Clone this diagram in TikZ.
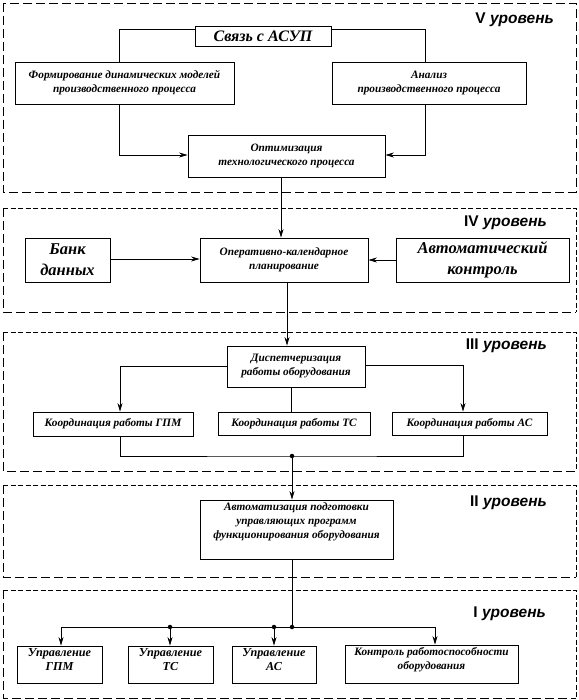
\documentclass[tikz,border=0pt]{standalone}
\usepackage{fontspec}
\setmainfont{Liberation Serif}
\newfontfamily\lvlfont{Liberation Sans}
\usetikzlibrary{arrows.meta,calc}
\newcommand\smtxt{\bfseries\itshape\fontsize{11.3}{14}\selectfont}
\newcommand\mybox[7][]{\node[box,#1,minimum width={(#4-#3)*1pt},minimum height={(#6-#5)*1pt}] (#2) at ({(#3+#4)/2},{(#5+#6)/2}) {#7};}
\newcommand\mytopbox[7][]{\node[box,minimum width={(#4-#3)*1pt},minimum height={(#6-#5)*1pt}] (#2) at ({(#3+#4)/2},{(#5+#6)/2}) {};
  \node[txt,#1,anchor=north] (#2t) at ([yshift=-3pt]#2.north) {#7};}
\newcommand\lvlrect[2]{%
  \draw[longdash] (3,#1) -- (3,#2) -- (576,#2);
  \draw[shortdash] (3,#1) -- (576,#1) -- (576,#2);}
\begin{document}
\begin{tikzpicture}[x=1pt,y=-1pt,
  box/.style={draw,line width=0.8pt,fill=white,inner sep=0pt,align=center,font=\smtxt},
  txt/.style={inner sep=0pt,align=center,font=\smtxt},
  bigtxt/.style={font=\bfseries\itshape\fontsize{16.5}{21}\selectfont},
  midtxt/.style={font=\bfseries\itshape\fontsize{16}{17}\selectfont},
  uptxt/.style={font=\bfseries\itshape\fontsize{12.2}{14}\selectfont},
  ln/.style={line width=0.7pt},
  arr/.style={line width=0.7pt,-{Stealth[length=8.5pt,width=5pt]}},
  longdash/.style={line width=0.8pt,dash pattern=on 9pt off 4pt},
  shortdash/.style={line width=0.7pt,dash pattern=on 5pt off 2.5pt},
  jdot/.style={circle,fill,inner sep=0pt,minimum size=4.5pt},
  lvl/.style={anchor=east,inner sep=0pt,font=\lvlfont\bfseries\fontsize{15.5}{17}\selectfont}]
\useasboundingbox (0,0) rectangle (578,700);
% level frames
\draw[longdash] (3,3) rectangle (576,192);
\lvlrect{208}{312}
\lvlrect{332}{471}
\lvlrect{485}{577}
\lvlrect{590}{698}
\node[lvl] (l5) at (554,20) {V \textit{уровень}};
\node[lvl] (l4) at (547,223) {IV \textit{уровень}};
\node[lvl] (l3) at (547,346) {III \textit{уровень}};
\node[lvl] (l2) at (547,503) {II \textit{уровень}};
\node[lvl] (l1) at (546,614) {I \textit{уровень}};
% level V
\mybox[midtxt]{svyaz}{195}{331}{26}{46}{Связь с АСУП}
\mybox{form}{15}{234}{62}{104}{Формирование динамических моделей\\производственного процесса}
\mybox{anal}{332}{526}{62}{104}{Анализ\\производственного процесса}
\mybox{optim}{188}{385}{135}{177}{Оптимизация\\технологического процесса}
% level IV
\mybox[bigtxt]{bank}{25}{110}{238}{282}{Банк\\данных}
\mybox{oper}{200}{368}{238}{282}{Оперативно-календарное\\планирование}
\mybox[bigtxt]{avto}{396}{569}{238}{282}{Автоматический\\контроль}
% level III
\mybox{disp}{227}{365}{346}{387}{Диспетчеризация\\работы оборудования}
\mybox{kgpm}{33}{193}{412}{436}{Координация работы ГПМ}
\mybox{kts}{218}{370}{412}{435}{Координация работы ТС}
\mybox{kas}{392}{547}{412}{435}{Координация работы АС}
% level II
\mytopbox{avtom}{200}{393}{500}{559}{Автоматизация подготовки\\управляющих программ\\функционирования оборудования}
% level I
\mytopbox[uptxt]{ugpm}{17}{102}{646}{683}{Управление\\ГПМ}
\mytopbox[uptxt]{uts}{128}{213}{646}{683}{Управление\\ТС}
\mytopbox[uptxt]{uas}{232}{316}{646}{683}{Управление\\АС}
\mytopbox{kontr}{345}{518}{645}{683}{Контроль работоспособности\\оборудования}
% connectors level V
\draw[ln] ([yshift=7pt]svyaz.west) -| ([xshift=-5.5pt]form.north);
\draw[ln] ([yshift=7pt]svyaz.east) -| ([xshift=-4pt]anal.north);
\draw[arr] ([xshift=-5.5pt]form.south) |- ([yshift=1pt]optim.west);
\draw[arr] ([xshift=-4pt]anal.south) |- ([yshift=1pt]optim.east);
\draw[arr] ([xshift=-5.5pt]optim.south) -- ([xshift=-5.5pt]optim.south |- oper.north);
% level IV
\draw[arr] ([yshift=1pt]bank.east) -- ([yshift=1pt]bank.east -| oper.west);
\draw[arr] (avto.west) -- (avto.west -| oper.east);
\draw[arr] ([xshift=3pt]oper.south) -- ([xshift=3pt]oper.south |- disp.north);
% level III
\draw[arr] (disp.west) -| ([xshift=7pt]kgpm.north);
\draw[arr] ([yshift=1.5pt]disp.east) -| ([xshift=-6.5pt]kas.north);
\draw[ln] ([xshift=-5pt]disp.south) -- ([xshift=-5pt]disp.south |- kts.north);
\coordinate (j3) at (292,456);
\draw[ln] ([xshift=7pt]kgpm.south) |- (j3) -| ([xshift=-6.5pt]kas.south);
\node[jdot] (j3d) at (j3) {};
\draw[arr] (j3) -- (j3 |- avtom.north);
% level II -> I
\coordinate (j4) at (292,627);
\coordinate (d1) at (170,627);
\coordinate (d2) at (274,627);
\draw[ln] (j3 |- avtom.south) -- (j4);
\draw[arr] (j4) -| ([xshift=1.5pt]ugpm.north);
\draw[arr] (j4) -| ([xshift=3.5pt]kontr.north);
\draw[arr] (d1) -- (d1 |- uts.north);
\draw[arr] (d2) -- (d2 |- uas.north);
\node[jdot] (j4d) at (j4) {};
\node[jdot] (d1d) at (d1) {};
\node[jdot] (d2d) at (d2) {};
\end{tikzpicture}
\end{document}
